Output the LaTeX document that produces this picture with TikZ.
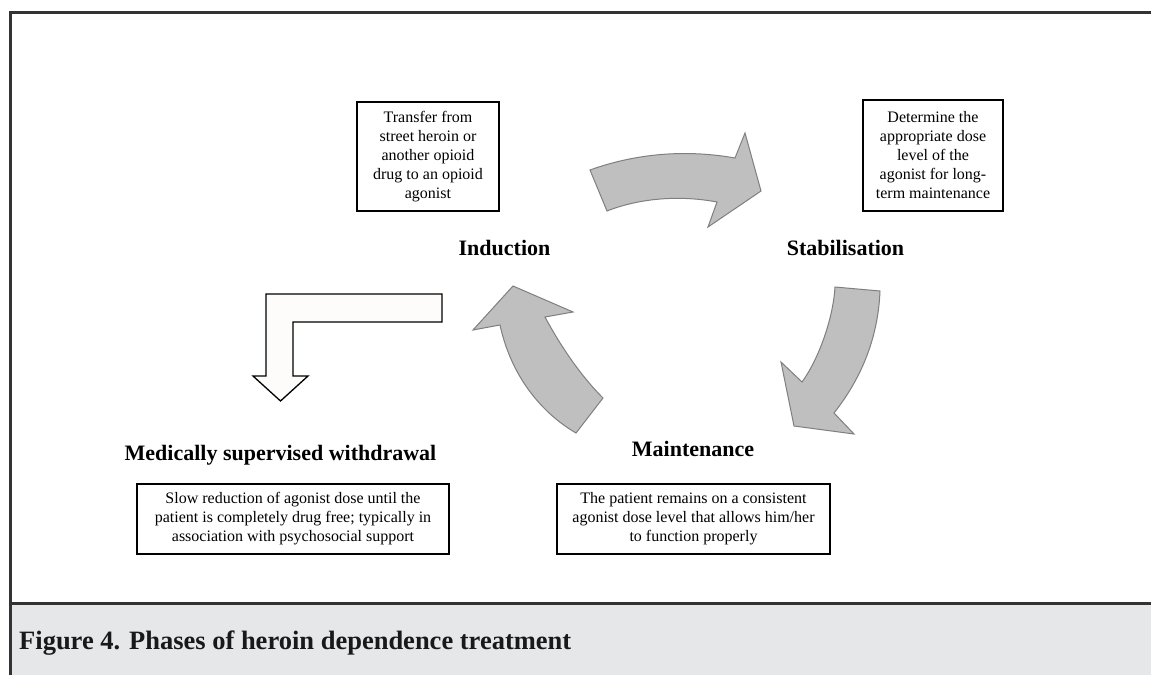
\documentclass[tikz,border=0pt]{standalone}
\usepackage{fontspec}
\setmainfont{Liberation Serif}
\definecolor{framegray}{HTML}{333333}
\definecolor{bandgray}{HTML}{E6E7E9}
\definecolor{arrowfill}{HTML}{BFBFBF}
\definecolor{arrowline}{HTML}{7F7F7F}
\definecolor{whitefill}{HTML}{FDFCFA}
\tikzset{
  framelines/.style={draw=framegray,line width=3pt},
  infobox/.style={draw=black,line width=1.1pt,fill=white,inner sep=0pt,align=center,
    font=\fontsize{16}{19}\selectfont},
  phase/.style={anchor=base,inner sep=0pt,font=\fontsize{22}{26}\selectfont\bfseries},
  cyclearrow/.style={fill=arrowfill,draw=arrowline,line width=1pt,line join=miter},
  exitarrow/.style={fill=whitefill,draw=black,line width=1.3pt,line join=miter},
}
\begin{document}
\begin{tikzpicture}[x=1pt,y=-1pt]
\useasboundingbox (0,0) rectangle (1151,675);
\fill[white] (0,0) rectangle (1151,675);
% caption band and frame
\fill[bandgray] (10,604) rectangle (1151,675);
\draw[framelines] (10,675) -- (10,12) -- (1151,12);
\draw[framelines] (10,603) -- (1151,603);

% description boxes
\node[infobox,minimum width=142pt,minimum height=109pt] (indbox) at (428,156.5)
  {Transfer from\\street heroin or\\another opioid\\drug to an opioid\\agonist};
\node[infobox,minimum width=140pt,minimum height=111pt] (stabbox) at (933,155.5)
  {Determine the\\appropriate dose\\level of the\\agonist for long-\\term maintenance};
\node[infobox,minimum width=312pt,minimum height=70pt] (wdbox) at (293,519)
  {Slow reduction of agonist dose until the\\patient is completely drug free; typically in\\association with psychosocial support};
\node[infobox,minimum width=273pt,minimum height=70pt] (mainbox) at (693.5,519)
  {The patient remains on a consistent\\agonist dose level that allows him/her\\to function properly};

% phase labels
\node[phase] (ind) at (504.5,255) {Induction};
\node[phase] (stab) at (845.5,255) {Stabilisation};
\node[phase] (main) at (693,456) {Maintenance};
\node[phase] (wd) at (280.5,460.5) {Medically supervised withdrawal};

% cycle arrows
\draw[cyclearrow] (590,170) .. controls (640,152) and (690,150) .. (735,158)
  -- (745,133) -- (761,191) -- (708,227) -- (717,202)
  .. controls (680,195) and (640,198) .. (607,211) -- cycle;
\draw[cyclearrow] (835,287) -- (880,291) .. controls (878,340) and (860,380) .. (834,413)
  -- (854,434) -- (794,426) -- (781,362) -- (802,382)
  .. controls (818,360) and (833,320) .. (835,287) -- cycle;
\draw[cyclearrow] (513,286) -- (573,312) -- (545,317)
  .. controls (560,345) and (580,375) .. (603,398) -- (576,433)
  .. controls (545,415) and (512,380) .. (500,325) -- (473,330) -- cycle;

% exit arrow
\draw[exitarrow] (442,294) -- (266,294) -- (266,376) -- (253,376) -- (280.5,401)
  -- (308,376) -- (293,376) -- (293,322) -- (442,322) -- cycle;

% caption
\node[anchor=base west,inner sep=0pt,text=black!90,font=\fontsize{26.5}{30}\selectfont\bfseries] (caption) at (19,649)
  {Figure 4. Phases of heroin dependence treatment};
\end{tikzpicture}
\end{document}
